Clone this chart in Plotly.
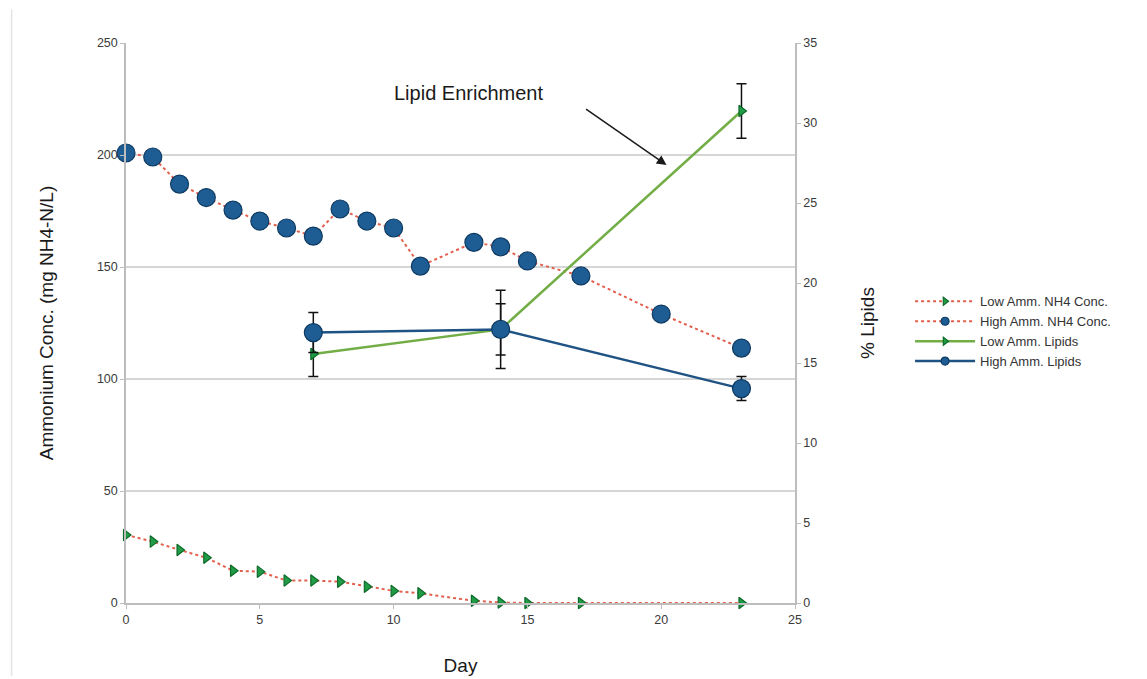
import plotly.graph_objects as go

# ammonium concentration (mg NH4-N/L)
low_days = [0, 1, 2, 3, 4, 5, 6, 7, 8, 9, 10, 11, 13, 14, 15, 17, 23]
low_nh4 = [30.4, 27.4, 23.7, 20.2, 14.4, 14.0, 10.0, 10.0, 9.5, 7.3, 5.4, 4.3, 1.0, 0.2, 0.0, 0.0, 0.0]

high_days = [0, 1, 2, 3, 4, 5, 6, 7, 8, 9, 10, 11, 13, 14, 15, 17, 20, 23]
high_nh4 = [200.9, 199.1, 187.0, 181.0, 175.4, 170.5, 167.4, 163.8, 175.9, 170.5, 167.4, 150.4,
            161.0, 159.0, 152.7, 146.0, 129.0, 113.8]

# % lipids
lipid_days = [7, 14, 23]
low_lipids = [15.56, 17.1, 30.75]
low_lipids_err = [1.4, 1.6, 1.7]
high_lipids = [16.9, 17.1, 13.4]
high_lipids_err = [1.25, 2.45, 0.75]

RED = "#e4604e"
GREEN_MK = "#1f9c45"
BLUE_MK = "#1e5d94"
GREEN_LN = "#72ad45"
BLUE_LN = "#1f5384"
TICK = "#3a3a3a"
GRID = "#d6d6d6"
FONT = "Liberation Sans, Arial, sans-serif"

# name -> (line style, marker symbol, plot marker size, legend marker size, marker colour, edge colour)
series_styles = {
    "Low Amm. NH4 Conc.": (dict(color=RED, width=2, dash="dot"), "triangle-right", 10, 7, GREEN_MK, "#0f6a2a"),
    "High Amm. NH4 Conc.": (dict(color=RED, width=2, dash="dot"), "circle", 18, 8, BLUE_MK, "#0e3a62"),
    "Low Amm. Lipids": (dict(color=GREEN_LN, width=2.5), "triangle-right", 10, 7, GREEN_MK, "#0f6a2a"),
    "High Amm. Lipids": (dict(color=BLUE_LN, width=2.5), "circle", 18, 8, BLUE_MK, "#0e3a62"),
}


def marker(name, legend=False):
    _, sym, size, lsize, col, edge = series_styles[name]
    return dict(symbol=sym, size=lsize if legend else size, color=col, line=dict(color=edge, width=1.2))


def build() -> go.Figure:
    fig = go.Figure()

    fig.add_trace(go.Scatter(
        x=low_days, y=low_nh4, name="Low Amm. NH4 Conc.", mode="lines+markers",
        line=series_styles["Low Amm. NH4 Conc."][0], marker=marker("Low Amm. NH4 Conc."),
        cliponaxis=False, showlegend=False,
    ))
    fig.add_trace(go.Scatter(
        x=high_days, y=high_nh4, name="High Amm. NH4 Conc.", mode="lines+markers",
        line=series_styles["High Amm. NH4 Conc."][0], marker=marker("High Amm. NH4 Conc."),
        cliponaxis=False, showlegend=False,
    ))
    fig.add_trace(go.Scatter(
        x=lipid_days, y=low_lipids, name="Low Amm. Lipids", mode="lines+markers", yaxis="y2",
        line=series_styles["Low Amm. Lipids"][0], marker=marker("Low Amm. Lipids"),
        error_y=dict(type="data", array=low_lipids_err, color="#111111", thickness=1.5, width=5),
        cliponaxis=False, showlegend=False,
    ))
    fig.add_trace(go.Scatter(
        x=lipid_days, y=high_lipids, name="High Amm. Lipids", mode="lines+markers", yaxis="y2",
        line=series_styles["High Amm. Lipids"][0], marker=marker("High Amm. Lipids"),
        error_y=dict(type="data", array=high_lipids_err, color="#111111", thickness=1.5, width=5),
        cliponaxis=False, showlegend=False,
    ))

    # legend entries with small markers, like the original
    for name, style in series_styles.items():
        fig.add_trace(go.Scatter(
            x=[None], y=[None], name=name, mode="lines+markers",
            line=style[0], marker=marker(name, legend=True),
        ))

    axis_font = dict(family=FONT, size=12.5, color=TICK)
    title_font = dict(family=FONT, size=19, color="#1a1a1a")

    fig.update_layout(
        width=1139, height=671,
        margin=dict(l=118, r=352, t=35, b=76),
        paper_bgcolor="white", plot_bgcolor="white",
        font=dict(family=FONT),
        xaxis=dict(
            range=[0, 25], dtick=5, showgrid=False, zeroline=False, automargin=False,
            showline=True, linecolor="#bdbdbd", linewidth=1.5,
            ticks="outside", ticklen=4, tickcolor="#bdbdbd", tickfont=axis_font,
            title=dict(text="Day", font=title_font, standoff=33),
        ),
        yaxis=dict(
            range=[0, 250], dtick=50, showgrid=True, gridcolor=GRID, gridwidth=1.5, zeroline=False,
            showline=True, linecolor="#bdbdbd", linewidth=1.5, automargin=False,
            ticks="outside", ticklen=4, tickcolor="#bdbdbd", tickfont=axis_font,
            title=dict(text="Ammonium Conc. (mg NH4-N/L)", font=title_font, standoff=38),
        ),
        yaxis2=dict(
            range=[0, 35], dtick=5, overlaying="y", side="right", showgrid=False, zeroline=False,
            showline=True, linecolor="#bdbdbd", linewidth=1.5, automargin=False,
            ticks="outside", ticklen=4, tickcolor="#bdbdbd", tickfont=axis_font,
            title=dict(text="% Lipids", font=title_font, standoff=44),
        ),
        legend=dict(
            x=1.172, y=0.485, xanchor="left", yanchor="middle",
            font=dict(family=FONT, size=13, color="#333333"),
            tracegroupgap=0, itemwidth=60, bgcolor="rgba(0,0,0,0)",
        ),
        showlegend=True,
    )

    # annotation with arrow
    fig.add_annotation(
        x=12.8, y=227.7, text="Lipid Enrichment", showarrow=False,
        font=dict(family=FONT, size=20, color="#1a1a1a"),
    )
    fig.add_annotation(
        x=20.2, y=195.5, text="", showarrow=True, ax=-82, ay=-57,
        arrowhead=2, arrowsize=1.3, arrowwidth=1.5, arrowcolor="#1a1a1a",
    )

    # faint page border on the left
    fig.add_shape(type="line", xref="paper", yref="paper", x0=-0.171, x1=-0.171, y0=-0.13, y1=1.06,
                  line=dict(color="#e4e4e4", width=1.5))
    return fig


def main():
    fig = build()
    fig.write_html("out.html")


if __name__ == "__main__":
    main()
